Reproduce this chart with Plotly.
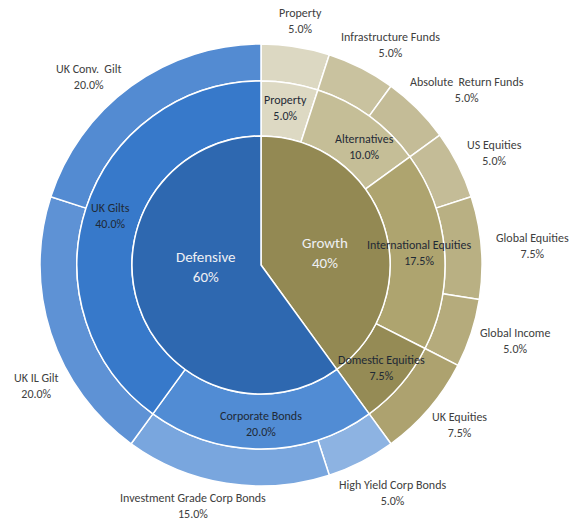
import math
import plotly.graph_objects as go

# ---- data -------------------------------------------------------------
inner_labels = ["Growth", "Defensive"]
inner_values = [40, 60]
inner_colors = ["#938953", "#2E68B0"]

mid_labels = ["Property", "Alternatives", "International Equities",
              "Domestic Equities", "Corporate Bonds", "UK Gilts"]
mid_values = [5.0, 10.0, 17.5, 7.5, 20.0, 40.0]
mid_colors = ["#DDD9C3", "#C5BE97", "#AEA46F", "#958B55", "#518CD4", "#3779CA"]

outer_labels = ["Property", "Infrastructure Funds", "Absolute  Return Funds",
                "US Equities", "Global Equities", "Global Income", "UK Equities",
                "High Yield Corp Bonds", "Investment Grade Corp Bonds",
                "UK IL Gilt", "UK Conv.  Gilt"]
outer_values = [5.0, 5.0, 5.0, 5.0, 7.5, 5.0, 7.5, 5.0, 15.0, 20.0, 20.0]
outer_colors = ["#DCD8C2", "#C9C29F", "#C4BC97", "#C4BC97", "#B9B083",
                "#B5AB7C", "#ADA26F", "#8DB3E2", "#79A6DE", "#5E92D5", "#538BD2"]

# ---- geometry / style (pixels) ----------------------------------------
W, H = 577, 522
CX, CY = 261, 265
R_OUT, R_MID, R_IN = 221, 184, 129
FONT = "Calibri, Carlito, Lato, sans-serif"

# hand placement tweaks for a few labels (dx, dy in pixels)
LABEL_NUDGE = {
    ("outer", "UK IL Gilt"): (22, 45),
    ("outer", "UK Conv.  Gilt"): (-14, 12),
    ("outer", "Investment Grade Corp Bonds"): (-20, 0),
    ("outer", "High Yield Corp Bonds"): (0, 8),
    ("mid", "Alternatives"): (10, 10),
    ("inner", "Growth"): (3, 8),
    ("inner", "Defensive"): (6, -18),
}


def domain(r):
    return dict(x=[(CX - r) / W, (CX + r) / W],
                y=[1 - (CY + r) / H, 1 - (CY - r) / H])


def mid_angles(values):
    total = sum(values)
    out, acc = [], 0.0
    for v in values:
        out.append(2 * math.pi * (acc + v / 2) / total)
        acc += v
    return out


def label(ring, name, px, py, text, size, color, w=0, h=0):
    dx, dy = LABEL_NUDGE.get((ring, name), (0, 0))
    px, py = px + dx, py + dy
    # keep the text box inside the figure
    px = min(max(px, w / 2 + 4), W - w / 2 - 4)
    py = min(max(py, h / 2 + 1), H - h / 2 - 1)
    return dict(x=px / W, y=1 - py / H, xref="paper", yref="paper",
                xanchor="center", yanchor="middle", text=text, showarrow=False,
                font=dict(family=FONT, size=size, color=color))


fig = go.Figure()
ring_line = dict(color="white", width=1.5)
fig.add_trace(go.Pie(labels=outer_labels, values=outer_values, sort=False,
                     direction="clockwise", rotation=0, hole=R_MID / R_OUT,
                     domain=domain(R_OUT), textinfo="none", hoverinfo="label+percent",
                     marker=dict(colors=outer_colors, line=ring_line), showlegend=False))
fig.add_trace(go.Pie(labels=mid_labels, values=mid_values, sort=False,
                     direction="clockwise", rotation=0, hole=R_IN / R_MID,
                     domain=domain(R_MID), textinfo="none", hoverinfo="label+percent",
                     marker=dict(colors=mid_colors, line=ring_line), showlegend=False))
fig.add_trace(go.Pie(labels=inner_labels, values=inner_values, sort=False,
                     direction="clockwise", rotation=0,
                     domain=domain(R_IN), textinfo="none", hoverinfo="label+percent",
                     marker=dict(colors=inner_colors, line=ring_line), showlegend=False))

annotations = []

# outer ring: labels sit just outside the ring, offset by half their box
for lab, val, a in zip(outer_labels, outer_values, mid_angles(outer_values)):
    ux, uy = math.sin(a), -math.cos(a)
    w = 5.4 * len(lab)
    h = 30
    px = CX + ux * (R_OUT + 11) + ux * w / 2
    py = CY + uy * (R_OUT + 11) + uy * h / 2
    annotations.append(label("outer", lab, px, py, f"{lab}<br>{val:.1f}%",
                             12, "#404040", w, h))

# middle ring: labels centred in the band
r_band = (R_IN + R_MID) / 2 + 2
for lab, val, a in zip(mid_labels, mid_values, mid_angles(mid_values)):
    px = CX + math.sin(a) * r_band
    py = CY - math.cos(a) * r_band
    annotations.append(label("mid", lab, px, py, f"{lab}<br>{val:.1f}%", 12, "#1F2A36"))

# centre pie
for lab, val, a in zip(inner_labels, inner_values, mid_angles(inner_values)):
    r = 0.5 * R_IN
    px = CX + math.sin(a) * r
    py = CY - math.cos(a) * r
    annotations.append(label("inner", lab, px, py, f"{lab}<br>{val:d}%", 15, "#EEF0F4"))

fig.update_layout(width=W, height=H, margin=dict(l=0, r=0, t=0, b=0),
                  paper_bgcolor="white", plot_bgcolor="white",
                  annotations=annotations)

fig.write_html("out.html")
